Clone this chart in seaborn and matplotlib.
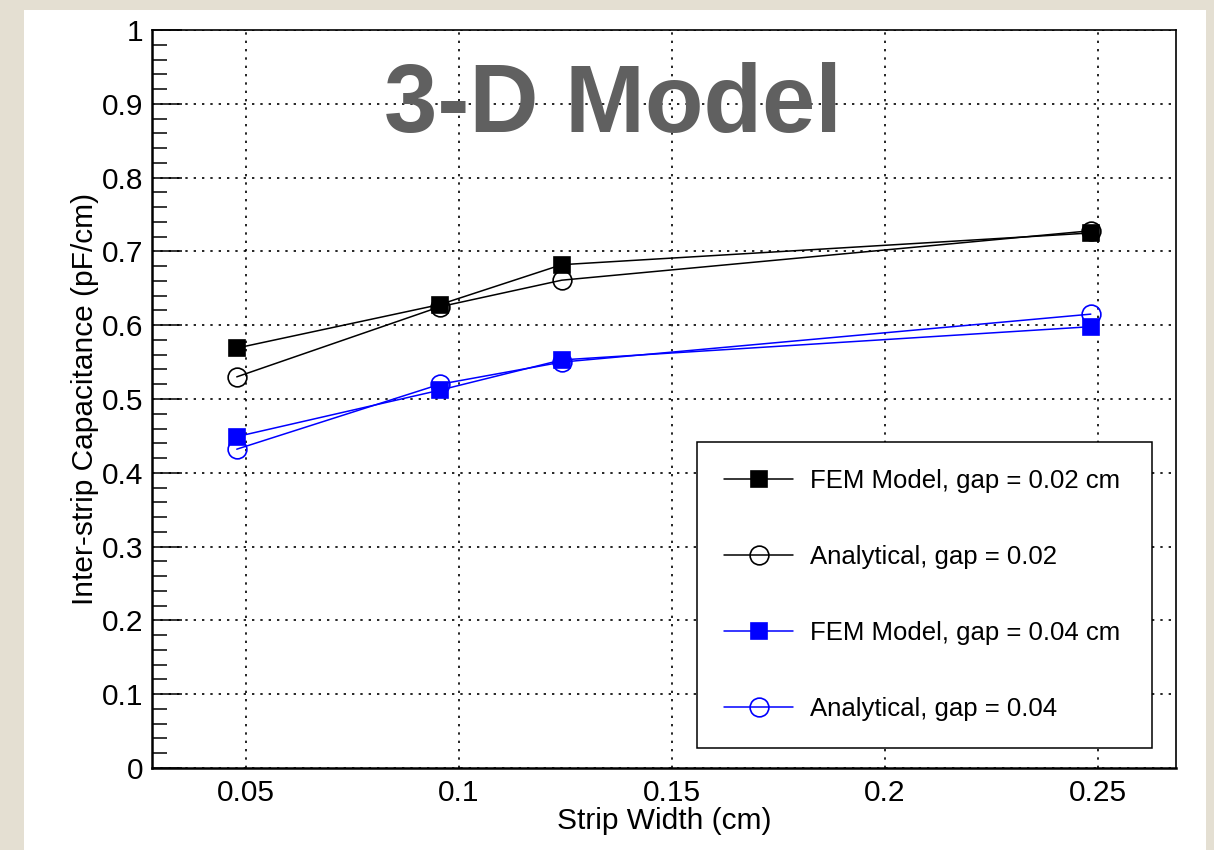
import numpy as np
import pandas as pd
import matplotlib
matplotlib.use("Agg")
import matplotlib.pyplot as plt
from matplotlib.patches import Rectangle
from matplotlib.ticker import MultipleLocator
import seaborn as sns

# ---- data ----
strip_width = [0.0478, 0.0955, 0.1241, 0.2483]
fem_002 = [0.569, 0.628, 0.682, 0.725]
ana_002 = [0.530, 0.625, 0.661, 0.728]
fem_004 = [0.449, 0.512, 0.553, 0.598]
ana_004 = [0.432, 0.520, 0.550, 0.615]
labels = ["FEM Model, gap = 0.02 cm", "Analytical, gap = 0.02",
          "FEM Model, gap = 0.04 cm", "Analytical, gap = 0.04"]
x_ticks = [0.05, 0.1, 0.15, 0.2, 0.25]
x_tick_labels = ["0.05", "0.1", "0.15", "0.2", "0.25"]
y_ticks = [0, 0.1, 0.2, 0.3, 0.4, 0.5, 0.6, 0.7, 0.8, 0.9, 1]
y_tick_labels = ["0", "0.1", "0.2", "0.3", "0.4", "0.5", "0.6", "0.7", "0.8", "0.9", "1"]

sns.set_theme(style="white")
plt.rcParams['font.family'] = ['Liberation Sans', 'DejaVu Sans']
plt.rcParams['text.color'] = 'black'
plt.rcParams['axes.labelcolor'] = 'black'
plt.rcParams['xtick.color'] = 'black'
plt.rcParams['ytick.color'] = 'black'

W, H = 1214, 850
fig = plt.figure(figsize=(W / 100, H / 100), dpi=100)
fig.patch.set_facecolor("#e4dfd2")
fig.patches.append(Rectangle((24 / W, 0), 1182 / W, 840 / H, transform=fig.transFigure,
                             facecolor="white", edgecolor="none", zorder=-5))

ax = fig.add_axes([152 / W, (H - 768) / H, 1024 / W, 738 / H])
ax.set_facecolor("white")

series = [
    (fem_002, "black", "s", "black", 11.5),
    (ana_002, "black", "o", "none", 13.5),
    (fem_004, "blue", "s", "blue", 11.5),
    (ana_004, "blue", "o", "none", 13.5),
]
for (vals, col, mk, fc, ms), lab in zip(series, labels):
    df = pd.DataFrame({"w": strip_width, "c": vals})
    sns.lineplot(data=df, x="w", y="c", ax=ax, color=col, marker=mk,
                 markersize=ms, markerfacecolor=fc, markeredgecolor=col,
                 markeredgewidth=1.2, linewidth=1.1, label=lab, sort=False,
                 zorder=3)

ax.set_xlim(0.0279, 0.2683)
ax.set_ylim(0, 1)
ax.set_xticks(x_ticks)
ax.set_xticklabels(x_tick_labels)
ax.set_yticks(y_ticks)
ax.set_yticklabels(y_tick_labels)
ax.yaxis.set_minor_locator(MultipleLocator(0.02))

ax.grid(True, which="major", color="black", linestyle=(0, (1.4, 3.6)), linewidth=1.2)
ax.tick_params(axis="y", which="major", direction="in", length=21.5, width=1.1,
               labelsize=21.5, pad=6, left=True, colors="black")
ax.tick_params(axis="y", which="minor", direction="in", length=10.8, width=1.1, left=True)
ax.tick_params(axis="x", which="both", length=0, labelsize=21.5, pad=8, colors="black")

for side in ["left", "bottom"]:
    ax.spines[side].set_linewidth(1.8)
    ax.spines[side].set_color("black")
for side in ["top", "right"]:
    ax.spines[side].set_linewidth(1.2)
    ax.spines[side].set_color("black")

ax.set_xlabel("Strip Width (cm)", fontsize=21.5, labelpad=0, color="black")
ax.set_ylabel("Inter-strip Capacitance (pF/cm)", fontsize=21.5, labelpad=2, color="black")

leg = ax.legend(loc="upper left", bbox_to_anchor=(697 / W, (H - 442) / H, 455 / W, 0.0),
                bbox_transform=fig.transFigure, mode="expand", fontsize=18.5,
                frameon=True, fancybox=False, framealpha=1, edgecolor="black",
                borderpad=1.05, labelspacing=2.03, handlelength=2.7,
                handletextpad=0.65, borderaxespad=0)
leg.get_frame().set_linewidth(1.1)
leg.set_zorder(5)
for t in leg.get_texts():
    t.set_color("black")

fig.text(613 / W, (H - 107) / H, "3-D Model", fontsize=69, fontweight="bold",
         color="#606060", ha="center", va="center")

fig.savefig("out.png", dpi=100, facecolor=fig.get_facecolor())
